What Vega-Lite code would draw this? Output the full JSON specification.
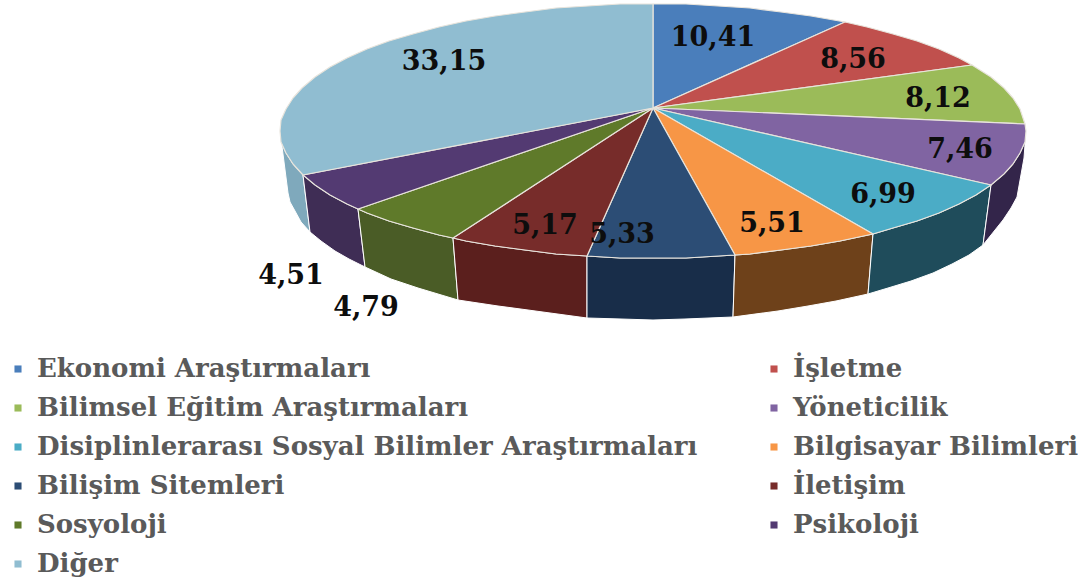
{"$schema":"https://vega.github.io/schema/vega-lite/v6.json","width":1078,"height":588,"autosize":{"type":"fit","contains":"padding"},"padding":0,"background":"white","view":{"stroke":null},"config":{"style":{"cell":{"stroke":null}}},
"datasets":{
"walls":[
{"part":"Diğer","i":1,"x":-373,"y":-23},{"part":"Diğer","i":2,"x":-372,"y":-34},{"part":"Diğer","i":3,"x":-367,"y":-45},{"part":"Diğer","i":4,"x":-360,"y":-56},{"part":"Diğer","i":5,"x":-350,"y":-67},{"part":"Diğer","i":6,"x":-343,"y":-124},{"part":"Diğer","i":7,"x":-352,"y":-114},{"part":"Diğer","i":8,"x":-358,"y":-103},{"part":"Diğer","i":9,"x":-363,"y":-94},{"part":"Diğer","i":10,"x":-365,"y":-85},{"part":"Diğer","i":11,"x":-373,"y":-23},
{"part":"Psikoloji","i":1,"x":-350,"y":-67},{"part":"Psikoloji","i":2,"x":-338,"y":-77},{"part":"Psikoloji","i":3,"x":-323,"y":-87},{"part":"Psikoloji","i":4,"x":-306,"y":-96},{"part":"Psikoloji","i":5,"x":-295,"y":-101},{"part":"Psikoloji","i":6,"x":-288,"y":-159},{"part":"Psikoloji","i":7,"x":-304,"y":-151},{"part":"Psikoloji","i":8,"x":-318,"y":-143},{"part":"Psikoloji","i":9,"x":-332,"y":-133},{"part":"Psikoloji","i":10,"x":-343,"y":-124},{"part":"Psikoloji","i":11,"x":-350,"y":-67},
{"part":"Sosyoloji","i":1,"x":-295,"y":-101},{"part":"Sosyoloji","i":2,"x":-286,"y":-105},{"part":"Sosyoloji","i":3,"x":-264,"y":-113},{"part":"Sosyoloji","i":4,"x":-240,"y":-120},{"part":"Sosyoloji","i":5,"x":-214,"y":-127},{"part":"Sosyoloji","i":6,"x":-200,"y":-130},{"part":"Sosyoloji","i":7,"x":-195,"y":-192},{"part":"Sosyoloji","i":8,"x":-235,"y":-180},{"part":"Sosyoloji","i":9,"x":-262,"y":-171},{"part":"Sosyoloji","i":10,"x":-288,"y":-159},{"part":"Sosyoloji","i":11,"x":-295,"y":-101},
{"part":"İletişim","i":1,"x":-200,"y":-130},{"part":"İletişim","i":2,"x":-187,"y":-133},{"part":"İletişim","i":3,"x":-158,"y":-138},{"part":"İletişim","i":4,"x":-128,"y":-142},{"part":"İletişim","i":5,"x":-97,"y":-146},{"part":"İletişim","i":6,"x":-66,"y":-148},{"part":"İletişim","i":7,"x":-66,"y":-210},{"part":"İletişim","i":8,"x":-125,"y":-202},{"part":"İletişim","i":9,"x":-155,"y":-198},{"part":"İletişim","i":10,"x":-195,"y":-192},{"part":"İletişim","i":11,"x":-200,"y":-130},
{"part":"Bilişim Sitemleri","i":1,"x":-66,"y":-148},{"part":"Bilişim Sitemleri","i":2,"x":-33,"y":-150},{"part":"Bilişim Sitemleri","i":3,"x":0,"y":-150},{"part":"Bilişim Sitemleri","i":4,"x":33,"y":-150},{"part":"Bilişim Sitemleri","i":5,"x":82,"y":-147},{"part":"Bilişim Sitemleri","i":6,"x":80,"y":-209},{"part":"Bilişim Sitemleri","i":7,"x":32,"y":-211},{"part":"Bilişim Sitemleri","i":8,"x":0,"y":-212},{"part":"Bilişim Sitemleri","i":9,"x":-32,"y":-211},{"part":"Bilişim Sitemleri","i":10,"x":-66,"y":-210},{"part":"Bilişim Sitemleri","i":11,"x":-66,"y":-148},
{"part":"Bilgisayar Bilimleri","i":1,"x":82,"y":-147},{"part":"Bilgisayar Bilimleri","i":2,"x":97,"y":-146},{"part":"Bilgisayar Bilimleri","i":3,"x":128,"y":-142},{"part":"Bilgisayar Bilimleri","i":4,"x":158,"y":-138},{"part":"Bilgisayar Bilimleri","i":5,"x":187,"y":-133},{"part":"Bilgisayar Bilimleri","i":6,"x":220,"y":-126},{"part":"Bilgisayar Bilimleri","i":7,"x":215,"y":-186},{"part":"Bilgisayar Bilimleri","i":8,"x":183,"y":-193},{"part":"Bilgisayar Bilimleri","i":9,"x":155,"y":-198},{"part":"Bilgisayar Bilimleri","i":10,"x":125,"y":-203},{"part":"Bilgisayar Bilimleri","i":11,"x":80,"y":-209},{"part":"Bilgisayar Bilimleri","i":12,"x":82,"y":-147},
{"part":"Disiplinlerarası Sosyal Bilimler Araştırmaları","i":1,"x":220,"y":-126},{"part":"Disiplinlerarası Sosyal Bilimler Araştırmaları","i":2,"x":240,"y":-120},{"part":"Disiplinlerarası Sosyal Bilimler Araştırmaları","i":3,"x":264,"y":-113},{"part":"Disiplinlerarası Sosyal Bilimler Araştırmaları","i":4,"x":286,"y":-105},{"part":"Disiplinlerarası Sosyal Bilimler Araştırmaları","i":5,"x":306,"y":-96},{"part":"Disiplinlerarası Sosyal Bilimler Araştırmaları","i":6,"x":323,"y":-87},{"part":"Disiplinlerarası Sosyal Bilimler Araştırmaları","i":7,"x":338,"y":-77},{"part":"Disiplinlerarası Sosyal Bilimler Araştırmaları","i":8,"x":330,"y":-137},{"part":"Disiplinlerarası Sosyal Bilimler Araştırmaları","i":9,"x":316,"y":-147},{"part":"Disiplinlerarası Sosyal Bilimler Araştırmaları","i":10,"x":299,"y":-156},{"part":"Disiplinlerarası Sosyal Bilimler Araştırmaları","i":11,"x":280,"y":-165},{"part":"Disiplinlerarası Sosyal Bilimler Araştırmaları","i":12,"x":258,"y":-173},{"part":"Disiplinlerarası Sosyal Bilimler Araştırmaları","i":13,"x":235,"y":-180},{"part":"Disiplinlerarası Sosyal Bilimler Araştırmaları","i":14,"x":215,"y":-186},{"part":"Disiplinlerarası Sosyal Bilimler Araştırmaları","i":15,"x":220,"y":-126},
{"part":"Yöneticilik","i":1,"x":338,"y":-77},{"part":"Yöneticilik","i":2,"x":351,"y":-66},{"part":"Yöneticilik","i":3,"x":360,"y":-56},{"part":"Yöneticilik","i":4,"x":367,"y":-45},{"part":"Yöneticilik","i":5,"x":372,"y":-34},{"part":"Yöneticilik","i":6,"x":373,"y":-23},{"part":"Yöneticilik","i":7,"x":371,"y":-50},{"part":"Yöneticilik","i":8,"x":364,"y":-89},{"part":"Yöneticilik","i":9,"x":358,"y":-100},{"part":"Yöneticilik","i":10,"x":350,"y":-112},{"part":"Yöneticilik","i":11,"x":330,"y":-137},{"part":"Yöneticilik","i":12,"x":338,"y":-77}
],
"tops":[
{"part":"Ekonomi Araştırmaları","i":1,"x":0,"y":0},{"part":"Ekonomi Araştırmaları","i":2,"x":0,"y":104},{"part":"Ekonomi Araştırmaları","i":3,"x":33,"y":104},{"part":"Ekonomi Araştırmaları","i":4,"x":65,"y":102},{"part":"Ekonomi Araştırmaları","i":5,"x":97,"y":100},{"part":"Ekonomi Araştırmaları","i":6,"x":128,"y":96},{"part":"Ekonomi Araştırmaları","i":7,"x":158,"y":92},{"part":"Ekonomi Araştırmaları","i":8,"x":192,"y":86},{"part":"Ekonomi Araştırmaları","i":9,"x":0,"y":0},
{"part":"İşletme","i":1,"x":0,"y":0},{"part":"İşletme","i":2,"x":192,"y":86},{"part":"İşletme","i":3,"x":214,"y":81},{"part":"İşletme","i":4,"x":240,"y":74},{"part":"İşletme","i":5,"x":264,"y":67},{"part":"İşletme","i":6,"x":286,"y":59},{"part":"İşletme","i":7,"x":306,"y":50},{"part":"İşletme","i":8,"x":319,"y":43},{"part":"İşletme","i":9,"x":0,"y":0},
{"part":"Bilimsel Eğitim Araştırmaları","i":1,"x":0,"y":0},{"part":"Bilimsel Eğitim Araştırmaları","i":2,"x":319,"y":43},{"part":"Bilimsel Eğitim Araştırmaları","i":3,"x":338,"y":31},{"part":"Bilimsel Eğitim Araştırmaları","i":4,"x":351,"y":20},{"part":"Bilimsel Eğitim Araştırmaları","i":5,"x":360,"y":10},{"part":"Bilimsel Eğitim Araştırmaları","i":6,"x":367,"y":-1},{"part":"Bilimsel Eğitim Araştırmaları","i":7,"x":372,"y":-16},{"part":"Bilimsel Eğitim Araştırmaları","i":8,"x":0,"y":0},
{"part":"Yöneticilik","i":1,"x":0,"y":0},{"part":"Yöneticilik","i":2,"x":372,"y":-16},{"part":"Yöneticilik","i":3,"x":373,"y":-23},{"part":"Yöneticilik","i":4,"x":372,"y":-34},{"part":"Yöneticilik","i":5,"x":367,"y":-45},{"part":"Yöneticilik","i":6,"x":360,"y":-56},{"part":"Yöneticilik","i":7,"x":351,"y":-66},{"part":"Yöneticilik","i":8,"x":338,"y":-77},{"part":"Yöneticilik","i":9,"x":0,"y":0},
{"part":"Disiplinlerarası Sosyal Bilimler Araştırmaları","i":1,"x":0,"y":0},{"part":"Disiplinlerarası Sosyal Bilimler Araştırmaları","i":2,"x":338,"y":-77},{"part":"Disiplinlerarası Sosyal Bilimler Araştırmaları","i":3,"x":323,"y":-87},{"part":"Disiplinlerarası Sosyal Bilimler Araştırmaları","i":4,"x":306,"y":-96},{"part":"Disiplinlerarası Sosyal Bilimler Araştırmaları","i":5,"x":286,"y":-105},{"part":"Disiplinlerarası Sosyal Bilimler Araştırmaları","i":6,"x":264,"y":-113},{"part":"Disiplinlerarası Sosyal Bilimler Araştırmaları","i":7,"x":240,"y":-120},{"part":"Disiplinlerarası Sosyal Bilimler Araştırmaları","i":8,"x":220,"y":-126},{"part":"Disiplinlerarası Sosyal Bilimler Araştırmaları","i":9,"x":0,"y":0},
{"part":"Bilgisayar Bilimleri","i":1,"x":0,"y":0},{"part":"Bilgisayar Bilimleri","i":2,"x":220,"y":-126},{"part":"Bilgisayar Bilimleri","i":3,"x":187,"y":-133},{"part":"Bilgisayar Bilimleri","i":4,"x":158,"y":-138},{"part":"Bilgisayar Bilimleri","i":5,"x":128,"y":-142},{"part":"Bilgisayar Bilimleri","i":6,"x":97,"y":-146},{"part":"Bilgisayar Bilimleri","i":7,"x":82,"y":-147},{"part":"Bilgisayar Bilimleri","i":8,"x":0,"y":0},
{"part":"Bilişim Sitemleri","i":1,"x":0,"y":0},{"part":"Bilişim Sitemleri","i":2,"x":82,"y":-147},{"part":"Bilişim Sitemleri","i":3,"x":33,"y":-150},{"part":"Bilişim Sitemleri","i":4,"x":0,"y":-150},{"part":"Bilişim Sitemleri","i":5,"x":-33,"y":-150},{"part":"Bilişim Sitemleri","i":6,"x":-66,"y":-148},{"part":"Bilişim Sitemleri","i":7,"x":0,"y":0},
{"part":"İletişim","i":1,"x":0,"y":0},{"part":"İletişim","i":2,"x":-66,"y":-148},{"part":"İletişim","i":3,"x":-97,"y":-146},{"part":"İletişim","i":4,"x":-128,"y":-142},{"part":"İletişim","i":5,"x":-158,"y":-138},{"part":"İletişim","i":6,"x":-187,"y":-133},{"part":"İletişim","i":7,"x":-200,"y":-130},{"part":"İletişim","i":8,"x":0,"y":0},
{"part":"Sosyoloji","i":1,"x":0,"y":0},{"part":"Sosyoloji","i":2,"x":-200,"y":-130},{"part":"Sosyoloji","i":3,"x":-214,"y":-127},{"part":"Sosyoloji","i":4,"x":-240,"y":-120},{"part":"Sosyoloji","i":5,"x":-264,"y":-113},{"part":"Sosyoloji","i":6,"x":-286,"y":-105},{"part":"Sosyoloji","i":7,"x":-295,"y":-101},{"part":"Sosyoloji","i":8,"x":0,"y":0},
{"part":"Psikoloji","i":1,"x":0,"y":0},{"part":"Psikoloji","i":2,"x":-295,"y":-101},{"part":"Psikoloji","i":3,"x":-306,"y":-96},{"part":"Psikoloji","i":4,"x":-323,"y":-87},{"part":"Psikoloji","i":5,"x":-338,"y":-77},{"part":"Psikoloji","i":6,"x":-350,"y":-67},{"part":"Psikoloji","i":7,"x":0,"y":0},
{"part":"Diğer","i":1,"x":0,"y":0},{"part":"Diğer","i":2,"x":-350,"y":-67},{"part":"Diğer","i":3,"x":-360,"y":-56},{"part":"Diğer","i":4,"x":-367,"y":-45},{"part":"Diğer","i":5,"x":-372,"y":-34},{"part":"Diğer","i":6,"x":-373,"y":-23},{"part":"Diğer","i":7,"x":-372,"y":-12},{"part":"Diğer","i":8,"x":-367,"y":-1},{"part":"Diğer","i":9,"x":-360,"y":10},{"part":"Diğer","i":10,"x":-351,"y":20},{"part":"Diğer","i":11,"x":-338,"y":31},{"part":"Diğer","i":12,"x":-323,"y":41},{"part":"Diğer","i":13,"x":-306,"y":50},{"part":"Diğer","i":14,"x":-286,"y":59},{"part":"Diğer","i":15,"x":-264,"y":67},{"part":"Diğer","i":16,"x":-240,"y":74},{"part":"Diğer","i":17,"x":-214,"y":81},{"part":"Diğer","i":18,"x":-187,"y":87},{"part":"Diğer","i":19,"x":-158,"y":92},{"part":"Diğer","i":20,"x":-128,"y":96},{"part":"Diğer","i":21,"x":-97,"y":100},{"part":"Diğer","i":22,"x":-65,"y":102},{"part":"Diğer","i":23,"x":-33,"y":104},{"part":"Diğer","i":24,"x":0,"y":104},{"part":"Diğer","i":25,"x":0,"y":0}
],
"labels":[
{"part":"Ekonomi Araştırmaları","value":"10,41","x":60,"y":70},
{"part":"İşletme","value":"8,56","x":200,"y":48},
{"part":"Bilimsel Eğitim Araştırmaları","value":"8,12","x":285,"y":9},
{"part":"Yöneticilik","value":"7,46","x":307,"y":-42},
{"part":"Disiplinlerarası Sosyal Bilimler Araştırmaları","value":"6,99","x":230,"y":-87},
{"part":"Bilgisayar Bilimleri","value":"5,51","x":119,"y":-116},
{"part":"Bilişim Sitemleri","value":"5,33","x":-31,"y":-127},
{"part":"İletişim","value":"5,17","x":-108,"y":-118},
{"part":"Sosyoloji","value":"4,79","x":-287,"y":-200},
{"part":"Psikoloji","value":"4,51","x":-362,"y":-168},
{"part":"Diğer","value":"33,15","x":-209,"y":46}
]},
"layer":[
{"data":{"name":"walls"},"mark":{"type":"line","filled":true,"stroke":"#ffffff","strokeWidth":1,"strokeJoin":"round"},
"encoding":{"x":{"field":"x","type":"quantitative","scale":{"domain":[-653,425],"nice":false,"zero":false},"axis":null},"y":{"field":"y","type":"quantitative","scale":{"domain":[-480,108],"nice":false,"zero":false},"axis":null},"order":{"field":"i","type":"quantitative"},
"color":{"field":"part","type":"nominal","legend":null,"scale":{"domain":["Yöneticilik","Disiplinlerarası Sosyal Bilimler Araştırmaları","Bilgisayar Bilimleri","Bilişim Sitemleri","İletişim","Sosyoloji","Psikoloji","Diğer"],"range":["#33254a","#1f4c5b","#6e411a","#182d49","#5b1f1d","#4a5c26","#3f2d55","#7fa9bc"]}}}},
{"data":{"name":"tops"},"mark":{"type":"line","filled":true,"stroke":"#e8e4dc","strokeWidth":1.2,"strokeJoin":"round"},
"encoding":{"x":{"field":"x","type":"quantitative"},"y":{"field":"y","type":"quantitative"},"order":{"field":"i","type":"quantitative"},
"color":{"field":"part","type":"nominal","scale":{"domain":["Ekonomi Araştırmaları","İşletme","Bilimsel Eğitim Araştırmaları","Yöneticilik","Disiplinlerarası Sosyal Bilimler Araştırmaları","Bilgisayar Bilimleri","Bilişim Sitemleri","İletişim","Sosyoloji","Psikoloji","Diğer"],"range":["#4a7ebb","#c0504d","#9bbb59","#8064a2","#4bacc6","#f79646","#2c4d75","#772c2a","#5f7a2a","#533a72","#90bdd1"]},
"legend":{"title":null,"orient":"none","legendX":5,"legendY":356,"columns":2,"direction":"horizontal","padding":0,"columnPadding":63,"rowPadding":13,"gridAlign":"each","labelFont":"DejaVu Serif","labelFontWeight":"bold","labelFontSize":26,"labelColor":"#5a5a5a","labelLimit":800,"labelOffset":6,"symbolType":"square","symbolSize":50,"symbolStrokeWidth":0}}}},
{"data":{"name":"labels"},"mark":{"type":"text","font":"DejaVu Serif","fontWeight":"bold","fontSize":27,"color":"#0d0d0d","align":"center","baseline":"middle"},
"encoding":{"x":{"field":"x","type":"quantitative"},"y":{"field":"y","type":"quantitative"},"text":{"field":"value","type":"nominal"}}}
],
"resolve":{"scale":{"color":"independent"}}}
